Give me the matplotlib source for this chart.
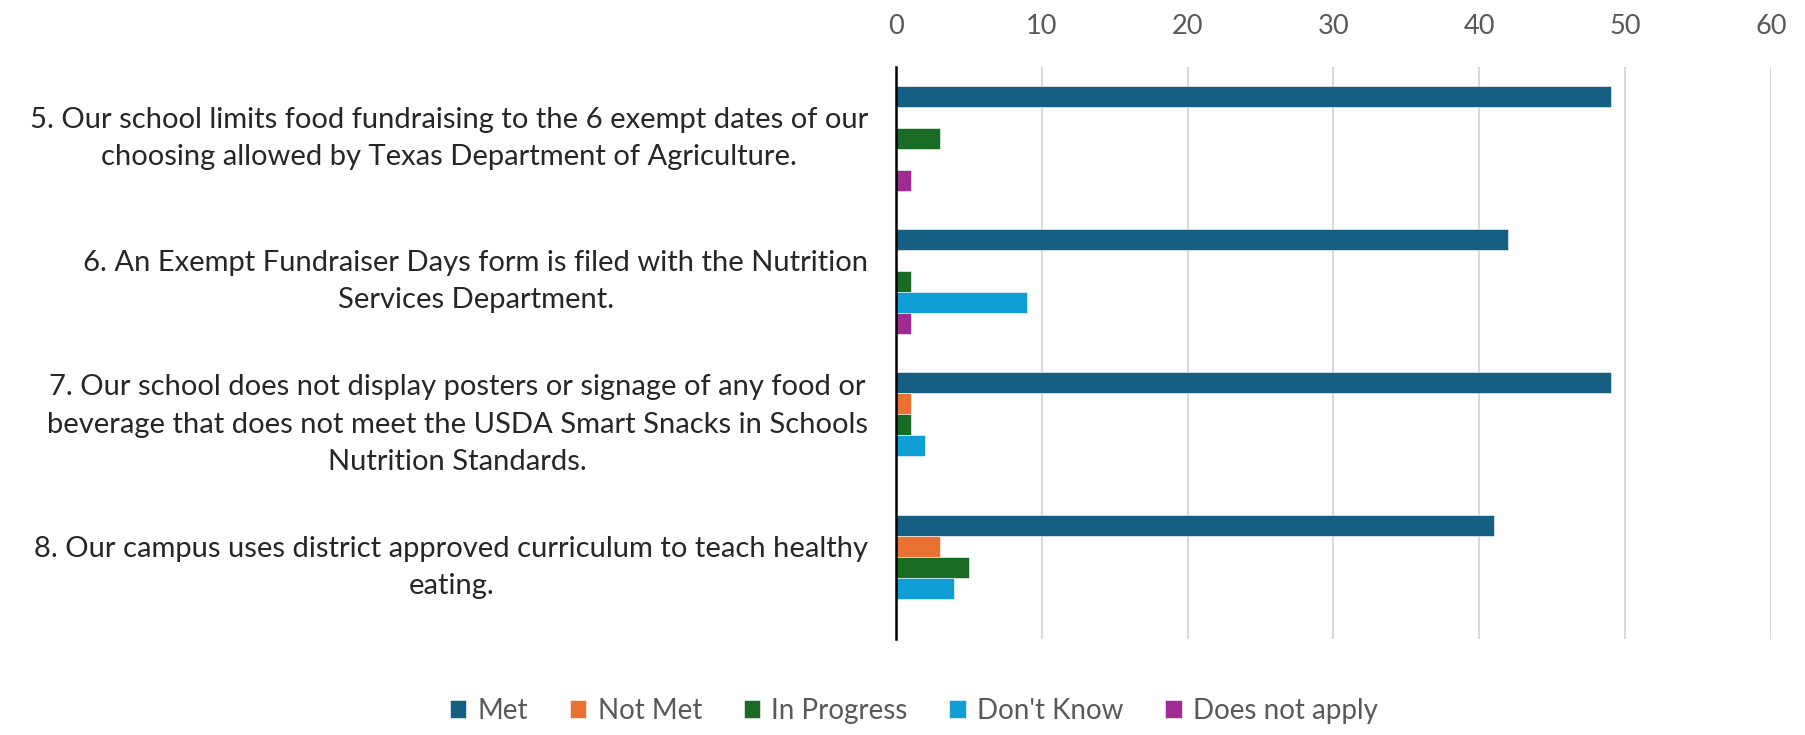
import numpy as np
import matplotlib.pyplot as plt

plt.rcParams['font.family'] = ['Lato', 'DejaVu Sans']

# Perguntas (de cima para baixo)
perguntas = [
    '5. Our school limits food fundraising to the 6 exempt dates of our\nchoosing allowed by Texas Department of Agriculture.',
    '6. An Exempt Fundraiser Days form is filed with the Nutrition\nServices Department.',
    '7. Our school does not display posters or signage of any food or\nbeverage that does not meet the USDA Smart Snacks in Schools\nNutrition Standards.',
    '8. Our campus uses district approved curriculum to teach healthy\neating.',
]

series = ['Met', 'Not Met', 'In Progress', "Don't Know", 'Does not apply']
met = [49, 42, 49, 41]
not_met = [0, 0, 1, 3]
in_progress = [3, 1, 1, 5]
dont_know = [0, 9, 2, 4]
nao_aplica = [1, 1, 0, 0]

valores = [met, not_met, in_progress, dont_know, nao_aplica]
cores = ['#156082', '#E97132', '#196B24', '#0F9ED5', '#A02B93']

fig = plt.figure(figsize=(18.06, 7.35), dpi=100)
ax = fig.add_axes([0.4961, 0.1306, 0.4845, 0.7782])

y = np.arange(len(perguntas))
h = 1 / (5 + 1.8)
for i, (nome, vals, cor) in enumerate(zip(series, valores, cores)):
    ax.barh(y + (i - 2) * h, vals, height=h, color=cor, label=nome,
            edgecolor='white', linewidth=0.4, zorder=3)

ax.set_xlim(0, 60)
ax.set_ylim(3.5, -0.5)
ax.set_xticks(range(0, 61, 10))
ax.xaxis.tick_top()
ax.tick_params(axis='x', length=0, pad=20, labelsize=19.5, labelcolor='#595959')
ax.set_yticks(y)
ax.set_yticklabels(perguntas, fontsize=21, color='#262626', va='center',
                   multialignment='center', linespacing=1.55)
ax.tick_params(axis='y', length=0, pad=20)

ax.grid(axis='x', color='#D9D9D9', linewidth=1.5, zorder=0)
for lado in ['top', 'right', 'bottom']:
    ax.spines[lado].set_visible(False)
ax.spines['left'].set_color('black')
ax.spines['left'].set_linewidth(1.8)
ax.spines['left'].set_zorder(4)

leg = fig.legend(loc='center', bbox_to_anchor=(0.506, 0.033), ncol=5,
                 frameon=False, fontsize=20, handlelength=0.6, handleheight=0.6,
                 handletextpad=0.4, columnspacing=1.5)
for t in leg.get_texts():
    t.set_color('#595959')

plt.savefig('out.png', dpi=100)
